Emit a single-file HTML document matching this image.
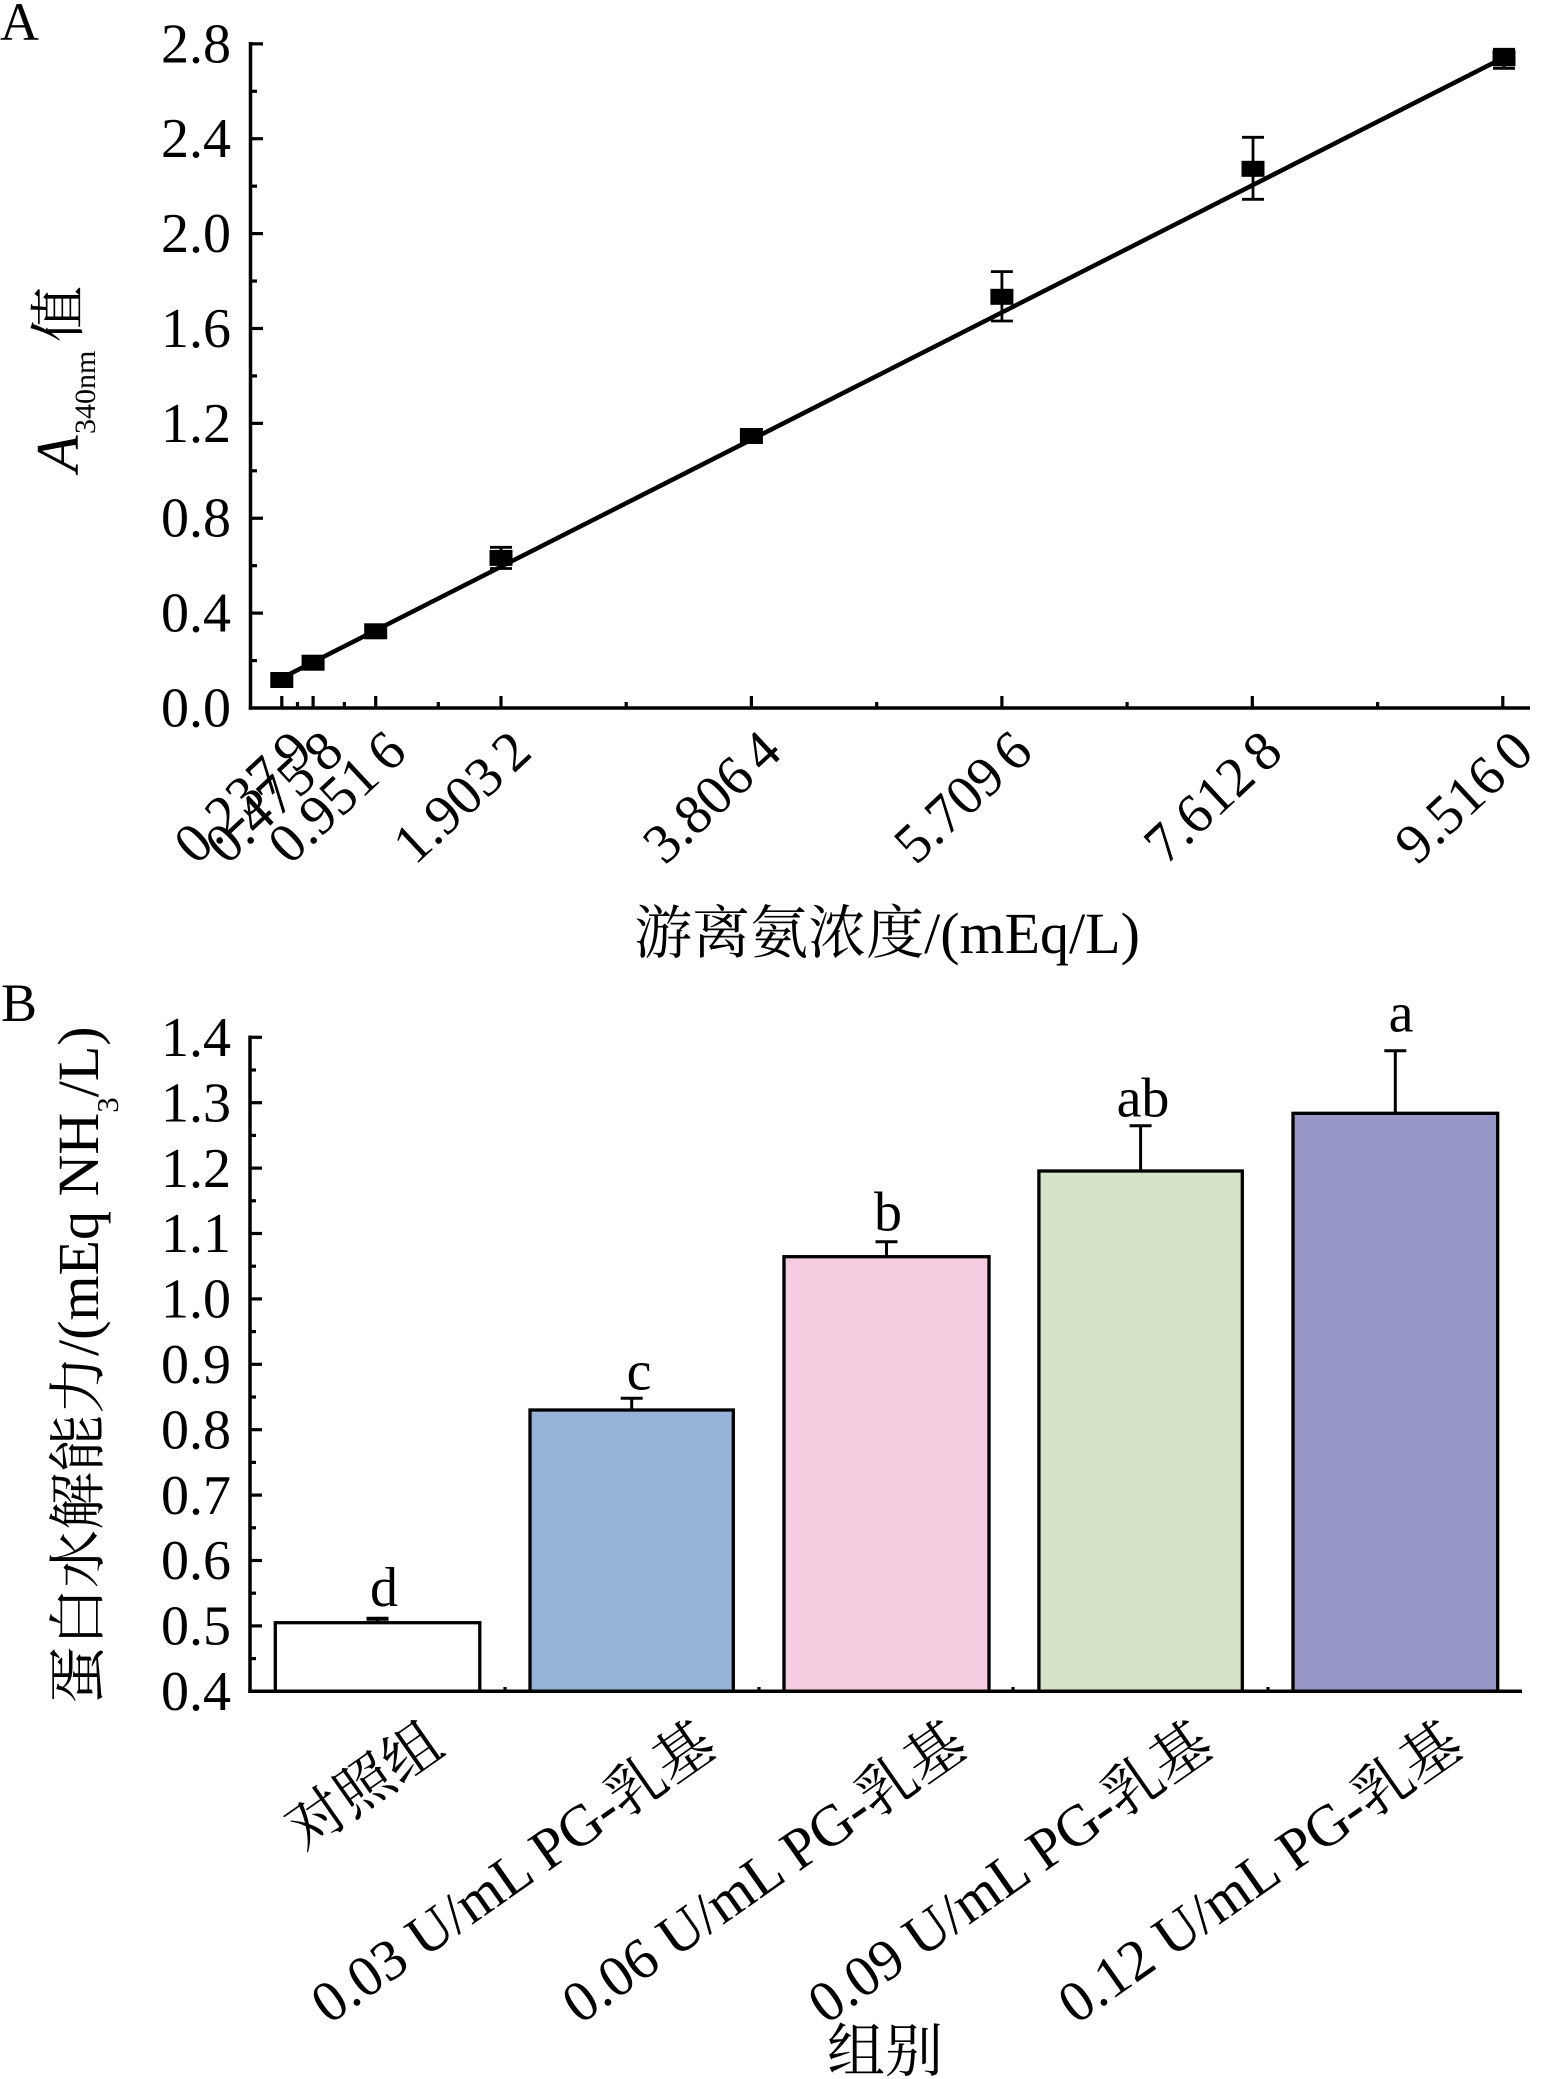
<!DOCTYPE html>
<html><head><meta charset="utf-8"><style>
html,body{margin:0;padding:0;background:#fff;}
svg{display:block;}
text{font-family:"Liberation Serif","Noto Serif CJK SC",serif;fill:#000;}
</style></head><body>
<svg width="1545" height="2079" viewBox="0 0 1545 2079" xmlns="http://www.w3.org/2000/svg">
<rect width="1545" height="2079" fill="#fff"/>

<!-- Panel labels -->
<text x="0" y="40" font-size="54">A</text>
<text x="1" y="1021" font-size="54">B</text>

<!-- ================= Plot A ================= -->
<g stroke="#000" stroke-width="3.5" fill="none">
  <line x1="250.5" y1="42" x2="250.5" y2="709.7"/>
  <line x1="248.8" y1="708" x2="1530" y2="708"/>
</g>
<!-- y ticks A -->
<g stroke="#000" stroke-width="3.2">
  <line x1="250" y1="43.84" x2="263" y2="43.84"/>
  <line x1="250" y1="138.72" x2="263" y2="138.72"/>
  <line x1="250" y1="233.6" x2="263" y2="233.6"/>
  <line x1="250" y1="328.48" x2="263" y2="328.48"/>
  <line x1="250" y1="423.36" x2="263" y2="423.36"/>
  <line x1="250" y1="518.24" x2="263" y2="518.24"/>
  <line x1="250" y1="613.12" x2="263" y2="613.12"/>
  <line x1="250" y1="91.28" x2="257" y2="91.28"/>
  <line x1="250" y1="186.16" x2="257" y2="186.16"/>
  <line x1="250" y1="281.04" x2="257" y2="281.04"/>
  <line x1="250" y1="375.92" x2="257" y2="375.92"/>
  <line x1="250" y1="470.8" x2="257" y2="470.8"/>
  <line x1="250" y1="565.68" x2="257" y2="565.68"/>
  <line x1="250" y1="660.56" x2="257" y2="660.56"/>
</g>
<g font-size="56" text-anchor="end">
  <text x="231" y="62.3">2.8</text>
  <text x="231" y="157.2">2.4</text>
  <text x="231" y="252.1">2.0</text>
  <text x="231" y="347">1.6</text>
  <text x="231" y="441.9">1.2</text>
  <text x="231" y="536.7">0.8</text>
  <text x="231" y="631.6">0.4</text>
  <text x="231" y="726.5">0.0</text>
</g>
<!-- x ticks A -->
<g stroke="#000" stroke-width="3.2">
  <line x1="281.8" y1="708" x2="281.8" y2="696"/>
  <line x1="313.1" y1="708" x2="313.1" y2="696"/>
  <line x1="375.7" y1="708" x2="375.7" y2="696"/>
  <line x1="501" y1="708" x2="501" y2="696"/>
  <line x1="751.4" y1="708" x2="751.4" y2="696"/>
  <line x1="1001.9" y1="708" x2="1001.9" y2="696"/>
  <line x1="1252.3" y1="708" x2="1252.3" y2="696"/>
  <line x1="1502.8" y1="708" x2="1502.8" y2="696"/>
  <line x1="297.5" y1="708" x2="297.5" y2="702"/>
  <line x1="344.4" y1="708" x2="344.4" y2="702"/>
  <line x1="438.3" y1="708" x2="438.3" y2="702"/>
  <line x1="626.2" y1="708" x2="626.2" y2="702"/>
  <line x1="876.7" y1="708" x2="876.7" y2="702"/>
  <line x1="1127.1" y1="708" x2="1127.1" y2="702"/>
  <line x1="1377.6" y1="708" x2="1377.6" y2="702"/>
</g>
<g font-size="56" text-anchor="end">
  <text transform="translate(315,755) rotate(-43)">0.237<tspan dx="9">9</tspan></text>
  <text transform="translate(346,755) rotate(-43)">0.475<tspan dx="9">8</tspan></text>
  <text transform="translate(409,755) rotate(-43)">0.951<tspan dx="9">6</tspan></text>
  <text transform="translate(534,755) rotate(-43)">1.903<tspan dx="9">2</tspan></text>
  <text transform="translate(784,755) rotate(-43)">3.806<tspan dx="9">4</tspan></text>
  <text transform="translate(1035,755) rotate(-43)">5.709<tspan dx="9">6</tspan></text>
  <text transform="translate(1285,755) rotate(-43)">7.612<tspan dx="9">8</tspan></text>
  <text transform="translate(1536,755) rotate(-43)">9.516<tspan dx="9">0</tspan></text>
</g>
<!-- regression line -->
<line x1="281.8" y1="678" x2="1504" y2="57.5" stroke="#000" stroke-width="4.5"/>
<!-- error bars A -->
<g stroke="#000" stroke-width="2.8">
  <line x1="501" y1="547.3" x2="501" y2="568.5"/>
  <line x1="490" y1="547.3" x2="512" y2="547.3"/>
  <line x1="490" y1="568.5" x2="512" y2="568.5"/>
  <line x1="1001.9" y1="271.6" x2="1001.9" y2="321"/>
  <line x1="990.9" y1="271.6" x2="1012.9" y2="271.6"/>
  <line x1="990.9" y1="321" x2="1012.9" y2="321"/>
  <line x1="1253" y1="137.3" x2="1253" y2="199.3"/>
  <line x1="1242" y1="137.3" x2="1264" y2="137.3"/>
  <line x1="1242" y1="199.3" x2="1264" y2="199.3"/>
  <line x1="1504" y1="49.3" x2="1504" y2="68.3"/>
  <line x1="1493" y1="49.3" x2="1515" y2="49.3"/>
  <line x1="1493" y1="68.3" x2="1515" y2="68.3"/>
</g>
<!-- markers -->
<g fill="#000">
  <rect x="270.3" y="672" width="23" height="16"/>
  <rect x="301.6" y="654.7" width="23" height="16"/>
  <rect x="364.2" y="623.3" width="23" height="16"/>
  <rect x="489.5" y="549.9" width="23" height="16"/>
  <rect x="739.9" y="428" width="23" height="16"/>
  <rect x="990.4" y="288.8" width="23" height="16"/>
  <rect x="1241.5" y="160.8" width="23" height="16"/>
  <rect x="1492.5" y="50.3" width="23" height="16"/>
</g>
<!-- axis titles A -->
<text transform="rotate(-90)" x="-472" y="78" font-size="60" font-style="italic">A</text>
<text transform="rotate(-90)" x="-434" y="95" font-size="30">340nm</text>
<text transform="rotate(-90)" x="-342" y="78" font-size="56">值</text>
<text x="887" y="953" font-size="58" text-anchor="middle">游离氨浓度/(mEq/L)</text>

<!-- ================= Plot B ================= -->
<!-- bars -->
<g stroke="#000" stroke-width="3.3">
  <rect x="275.3" y="1622.7" width="204.5" height="68.6" fill="#ffffff"/>
  <rect x="530" y="1410" width="203.3" height="281.3" fill="#97b3d8"/>
  <rect x="784" y="1256.7" width="205" height="434.6" fill="#f6cde0"/>
  <rect x="1038.9" y="1171" width="203.4" height="520.3" fill="#d5e3c8"/>
  <rect x="1293" y="1113.3" width="204.7" height="578" fill="#9697c6"/>
</g>
<!-- error bars B -->
<g stroke="#000" stroke-width="3">
  <line x1="377.5" y1="1622.7" x2="377.5" y2="1618.7"/>
  <line x1="366.5" y1="1618.7" x2="388.5" y2="1618.7" stroke-width="4"/>
  <line x1="631.7" y1="1410" x2="631.7" y2="1398.3"/>
  <line x1="620.7" y1="1398.3" x2="642.7" y2="1398.3"/>
  <line x1="886.5" y1="1256.7" x2="886.5" y2="1241.7"/>
  <line x1="875.5" y1="1241.7" x2="897.5" y2="1241.7"/>
  <line x1="1140.6" y1="1171" x2="1140.6" y2="1125.7"/>
  <line x1="1129.6" y1="1125.7" x2="1151.6" y2="1125.7"/>
  <line x1="1395.3" y1="1113.3" x2="1395.3" y2="1050.7"/>
  <line x1="1384.3" y1="1050.7" x2="1406.3" y2="1050.7"/>
</g>
<!-- axes B -->
<g stroke="#000" stroke-width="3.5" fill="none">
  <line x1="250" y1="1035.5" x2="250" y2="1693"/>
  <line x1="248.3" y1="1691.3" x2="1522" y2="1691.3"/>
</g>
<g stroke="#000" stroke-width="3.2">
  <line x1="250" y1="1037.3" x2="262" y2="1037.3"/>
  <line x1="250" y1="1102.7" x2="262" y2="1102.7"/>
  <line x1="250" y1="1168.1" x2="262" y2="1168.1"/>
  <line x1="250" y1="1233.5" x2="262" y2="1233.5"/>
  <line x1="250" y1="1298.9" x2="262" y2="1298.9"/>
  <line x1="250" y1="1364.3" x2="262" y2="1364.3"/>
  <line x1="250" y1="1429.7" x2="262" y2="1429.7"/>
  <line x1="250" y1="1495.1" x2="262" y2="1495.1"/>
  <line x1="250" y1="1560.5" x2="262" y2="1560.5"/>
  <line x1="250" y1="1625.9" x2="262" y2="1625.9"/>
  <line x1="250" y1="1070" x2="256" y2="1070"/>
  <line x1="250" y1="1135.4" x2="256" y2="1135.4"/>
  <line x1="250" y1="1200.8" x2="256" y2="1200.8"/>
  <line x1="250" y1="1266.2" x2="256" y2="1266.2"/>
  <line x1="250" y1="1331.6" x2="256" y2="1331.6"/>
  <line x1="250" y1="1397" x2="256" y2="1397"/>
  <line x1="250" y1="1462.4" x2="256" y2="1462.4"/>
  <line x1="250" y1="1527.8" x2="256" y2="1527.8"/>
  <line x1="250" y1="1593.2" x2="256" y2="1593.2"/>
  <line x1="250" y1="1658.6" x2="256" y2="1658.6"/>
  <line x1="505" y1="1691.3" x2="505" y2="1687"/>
  <line x1="759" y1="1691.3" x2="759" y2="1687"/>
  <line x1="1013" y1="1691.3" x2="1013" y2="1687"/>
  <line x1="1268" y1="1691.3" x2="1268" y2="1687"/>
</g>
<g font-size="56" text-anchor="end">
  <text x="231" y="1056">1.4</text>
  <text x="231" y="1121.4">1.3</text>
  <text x="231" y="1186.8">1.2</text>
  <text x="231" y="1252.2">1.1</text>
  <text x="231" y="1317.6">1.0</text>
  <text x="231" y="1383">0.9</text>
  <text x="231" y="1448.4">0.8</text>
  <text x="231" y="1513.8">0.7</text>
  <text x="231" y="1579.2">0.6</text>
  <text x="231" y="1644.6">0.5</text>
  <text x="231" y="1710">0.4</text>
</g>
<!-- significance letters -->
<g font-size="56" text-anchor="middle">
  <text x="384" y="1606">d</text>
  <text x="639" y="1389.3">c</text>
  <text x="888" y="1230.7">b</text>
  <text x="1143" y="1116.7">ab</text>
  <text x="1401" y="1031.7">a</text>
</g>
<!-- category labels -->
<g font-size="58" text-anchor="end">
  <text transform="translate(447,1752) rotate(-35)">对照组</text>
  <text transform="translate(719,1752) rotate(-35)">0.03 U/mL PG-乳基</text>
  <text transform="translate(970,1752) rotate(-35)">0.06 U/mL PG-乳基</text>
  <text transform="translate(1216,1752) rotate(-35)">0.09 U/mL PG-乳基</text>
  <text transform="translate(1466,1752) rotate(-35)">0.12 U/mL PG-乳基</text>
</g>
<!-- axis titles B -->
<text transform="rotate(-90)" x="-1704" y="98" font-size="58">蛋白水解能力/(mEq NH<tspan font-size="31" dy="20">3</tspan><tspan dy="-20">/L)</tspan></text>
<text x="885" y="2071" font-size="58" text-anchor="middle">组别</text>
</svg>
</body></html>
